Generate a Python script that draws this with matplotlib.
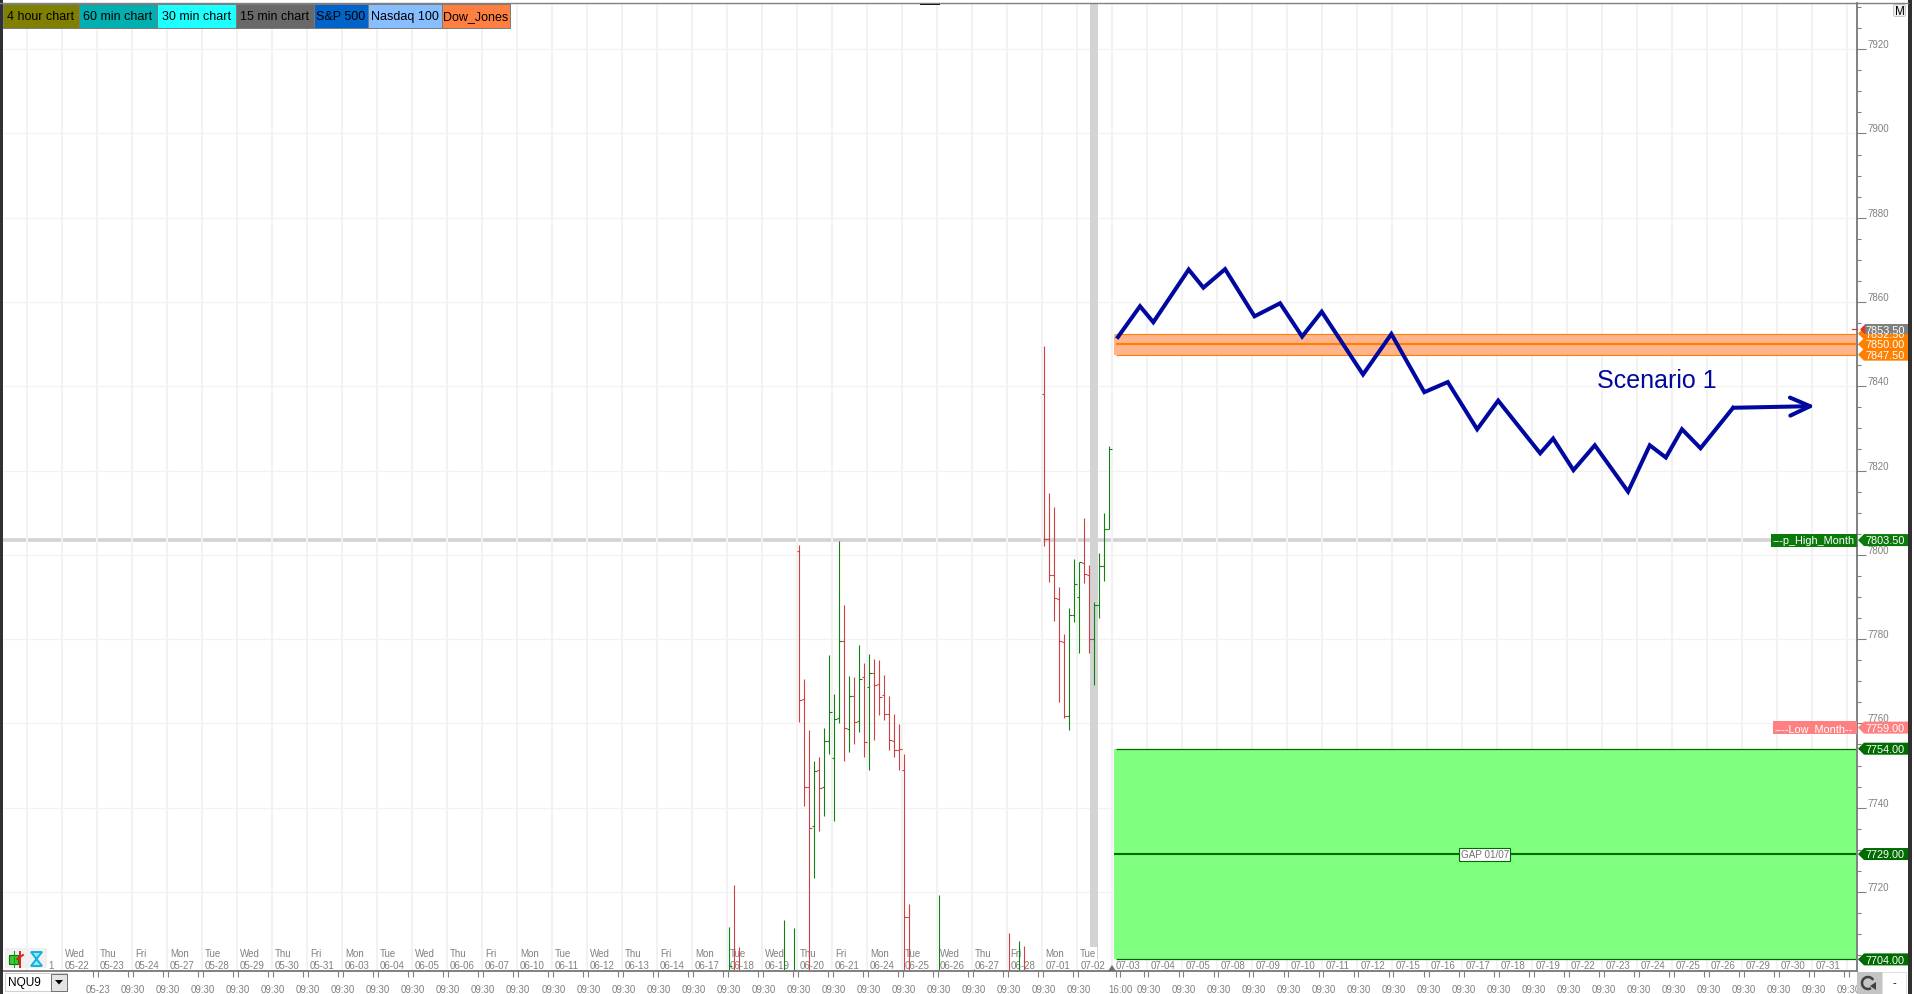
import matplotlib
matplotlib.use("Agg")
import matplotlib.pyplot as plt
from matplotlib.patches import Rectangle, Polygon, Arc, FancyBboxPatch
from matplotlib.transforms import blended_transform_factory
import numpy as np

plt.rcParams['font.family'] = ['Liberation Sans', 'DejaVu Sans']

# session axis: one slot per trading day, 7 bars per day
day_names = ["Wed", "Thu", "Fri", "Mon", "Tue", "Wed", "Thu", "Fri", "Mon", "Tue", "Wed", "Thu", "Fri", "Mon", "Tue",
             "Wed", "Thu", "Fri", "Mon", "Tue", "Wed", "Thu", "Fri", "Mon", "Tue", "Wed", "Thu", "Fri", "Mon", "Tue"]
day_dates = ["05-22", "05-23", "05-24", "05-27", "05-28", "05-29", "05-30", "05-31", "06-03", "06-04", "06-05",
             "06-06", "06-07", "06-10", "06-11", "06-12", "06-13", "06-14", "06-17", "06-18", "06-19", "06-20",
             "06-21", "06-24", "06-25", "06-26", "06-27", "06-28", "07-01", "07-02"]
future_dates = ["07-03", "07-04", "07-05", "07-08", "07-09", "07-10", "07-11", "07-12", "07-15", "07-16", "07-17",
                "07-18", "07-19", "07-22", "07-23", "07-24", "07-25", "07-26", "07-29", "07-30", "07-31"]

# bars, number = bars since the start of the 06-20 session
bar_i = [-14, -13, -12, -3, -1,
         0, 1, 2, 3, 4, 5, 6, 7, 8, 9, 10, 11, 12, 13, 14, 15, 16, 17, 18, 19, 20, 21, 22,
         28, 35, 42, 44, 45,
         49, 50, 51, 52, 53, 54, 55, 56, 57, 58, 59, 60, 61, 62]
bar_open = [7700, 7700, 7700, 7700, 7700,
            7801, 7765.75, 7745, 7735.75, 7749, 7745, 7755.75, 7751.75, 7761.25, 7779.5, 7758.75, 7766.5, 7760.5,
            7771, 7768.75, 7772, 7769.25, 7766.75, 7762.25, 7755.75, 7753.75, 7749, 7714,
            7700, 7700, 7700, 7700, 7700,
            7838.25, 7803.75, 7795.25, 7789.5, 7779.25, 7761.75, 7785.75, 7790, 7798, 7795.25, 7780, 7788, 7797.25,
            7806.25]
bar_high = [7711.75, 7721.75, 7707, 7713.25, 7711.5,
            7802.25, 7770.5, 7758.5, 7751, 7752, 7759, 7776.25, 7767, 7803.25, 7788, 7771.25, 7771, 7778.5,
            7774.25, 7776.5, 7775.25, 7775, 7771.5, 7766.5, 7762.25, 7759.75, 7752.75, 7717.25,
            7719.25, 7701.75, 7710.25, 7708.25, 7707.25,
            7849.5, 7814.75, 7811.25, 7792.25, 7781.25, 7787.5, 7799, 7798.25, 7808.75, 7797.5, 7788.75, 7800.5, 7810,
            7825.75]
bar_low = [7695, 7695, 7695, 7695, 7695,
           7760.25, 7740.5, 7695, 7723.25, 7734.5, 7738, 7752.75, 7736.75, 7760, 7751, 7753.25, 7755, 7758,
           7752, 7749, 7756, 7762, 7760.75, 7753.75, 7752, 7749, 7695, 7695,
           7695, 7695, 7695, 7695, 7695,
           7802, 7793.5, 7784.25, 7765, 7761.25, 7758.5, 7784, 7776.75, 7793.25, 7776.75, 7769, 7785, 7793.75,
           7806.25]
bar_close = [7702.5, 7700, 7700, 7700, 7700,
             7765.5, 7745, 7735.25, 7748.75, 7744.75, 7755.75, 7762.75, 7761, 7779.5, 7759, 7766.5, 7760.25, 7770.5,
             7755.5, 7772, 7769, 7766.25, 7762.25, 7756, 7753.75, 7754, 7714, 7700,
             7700, 7700, 7700, 7700, 7700,
             7803.75, 7795.25, 7789.75, 7779.5, 7761.75, 7785.75, 7793, 7798.25, 7795.5, 7780, 7788, 7797.25, 7806.25,
             7825]
bar_up = [1, 0, 0, 1, 1,
          0, 0, 0, 1, 0, 1, 1, 1, 1, 0, 1, 0, 1, 0, 1, 0, 0, 0, 0, 0, 0, 0, 0,
          1, 1, 0, 1, 0,
          0, 0, 0, 0, 0, 1, 1, 1, 0, 0, 1, 1, 1, 1]

# hand drawn scenario, in day slots and price
scenario_x = [31.17, 31.80, 32.18, 33.19, 33.61, 34.23, 35.07, 35.80, 36.43, 36.99, 38.17, 38.98, 39.92, 40.59,
              41.43, 42.03, 43.23, 43.60, 44.18, 44.79, 45.74, 46.36, 46.82, 47.28, 47.81, 48.74, 51.08]
scenario_y = [7851.7, 7859, 7855.2, 7867.7, 7863.4, 7867.8, 7856.6, 7859.7, 7851.8, 7857.7, 7842.8, 7852.4, 7838.6,
              7841, 7829.8, 7836.6, 7824.1, 7827.6, 7820.1, 7826, 7815, 7826, 7823.1, 7829.8, 7825.3, 7834.9, 7835.3]

level_high_month = 7803.50
level_low_month = 7759.00
orange_levels = [7852.50, 7850.00, 7847.50]
last_price = 7853.50
gap_top, gap_mid, gap_bottom = 7754.00, 7729.00, 7704.00

button_labels = ["4 hour chart", "60 min chart", "30 min chart", "15 min chart", "S&P 500", "Nasdaq 100", "Dow_Jones"]
button_colors = ["#808000", "#00AFAF", "#1EFFFF", "#696969", "#0064C8", "#87BEFF", "#FF7F40"]
button_edges = [3, 78.5, 157, 236, 314, 367.5, 442, 510]

W, H = 1914, 995
left, right, top, bottom = 3, 1857, 4, 972
day0, day_w = 26.7, 35.01
GREY = "#808080"
RED = "#CF4040"
GREEN = "#128012"
DKGREEN = "#006B00"
ORANGE = "#FF8000"
BLUE = "#0008A0"

fig = plt.figure(figsize=(W / 100, H / 100), dpi=100)
ax = fig.add_axes([left / W, 1 - bottom / H, (right - left) / W, (bottom - top) / H])
ax.set_xlim((left - day0) / day_w, (right - day0) / day_w)
ymin = 7760 - (bottom - 724.4) / 4.214
ymax = 7760 + (724.4 - top) / 4.214
ax.set_ylim(ymin, ymax)

for s in ['top', 'left']:
    ax.spines[s].set_visible(False)
for s in ['right', 'bottom']:
    ax.spines[s].set_color("#808080")
    ax.spines[s].set_linewidth(1.4)

# y axis
ax.yaxis.tick_right()
ax.set_yticks(np.arange(7720, 7921, 20))
ax.set_yticks(np.arange(7705, 7931, 5), minor=True)
ax.tick_params(axis='y', which='major', length=6.5, width=0.8, color="#808080", labelcolor=GREY, labelsize=7, pad=0.8)
ax.tick_params(axis='y', which='minor', length=3, width=0.8, color="#808080")
for lab in ax.get_yticklabels():
    lab.set_verticalalignment('bottom')

# x axis, two ticks per session and the time under them
xt = list(range(2, 31)) + [31.2] + list(range(32, 53))
xt_lab = ["05-23"] + ["09:30"] * 28 + ["16:00"] + ["09:30"] * 21
ax.set_xticks(np.array(xt) + 0.04)
ax.set_xticklabels(xt_lab)
ax.set_xticks(np.array(xt) - 0.1, minor=True)
ax.tick_params(axis='x', which='major', length=4.3, width=0.8, color="#808080", labelcolor=GREY, labelsize=7, pad=5)
ax.tick_params(axis='x', which='minor', length=4.3, width=0.8, color="#808080")

# grid
ax.set_axisbelow(True)
ax.vlines(np.arange(0, 53), ymin, ymax, color="#F2F2F2", lw=1.5, zorder=0.5)
ax.hlines(np.arange(7720, 7921, 20), (left - day0) / day_w, (right - day0) / day_w, color="#F2F2F2", lw=0.9, zorder=0.5)

# grey crosshair
ax.axhline(level_high_month, color="#D3D3D3", lw=2.6, zorder=0.4)
ax.axvspan(30.38, 30.61, ymin=(bottom - 960) / (bottom - top), color="#D3D3D3", lw=0, zorder=0.6)

# date labels inside the plot
tr = blended_transform_factory(ax.transData, ax.transAxes)
row1 = (bottom - 954) / (bottom - top)
row2 = (bottom - 966) / (bottom - top)
for i in range(len(day_names)):
    d = i + 1
    box = dict(fc="white", ec="none", pad=0.6) if d == 30 else None
    ax.text(d + 0.09, row1, day_names[i], transform=tr, color=GREY, fontsize=7,
            ha='left', va='center', zorder=0.8, bbox=box)
    ax.text(d + 0.09, row2, day_dates[i], transform=tr, color=GREY, fontsize=7,
            ha='left', va='center', zorder=0.8, bbox=box)
for i in range(len(future_dates)):
    ax.text(31 + i + 0.09, row2, future_dates[i], transform=tr, color=GREY, fontsize=7,
            ha='left', va='center', zorder=3.5)
ax.text(0.62, row2, "1", transform=tr, color=GREY, fontsize=7, ha='left', va='center')

# OHLC bars
bx = 22.07 + np.array(bar_i) * 5 / day_w
cols = [GREEN if u else RED for u in bar_up]
tick = 2.6 / day_w
ax.vlines(bx, bar_low, bar_high, colors=cols, lw=0.8, zorder=2)
ax.hlines(bar_open, bx - tick, bx, colors=cols, lw=0.8, zorder=2)
ax.hlines(bar_close, bx, bx + tick, colors=cols, lw=0.8, zorder=2)

# zones
zone_left = (1114.3 - day0) / day_w
zone_right = (right - day0) / day_w
ax.add_patch(Rectangle((zone_left, orange_levels[2]), zone_right - zone_left, orange_levels[0] - orange_levels[2],
                       fc="#FFB48C", ec="none", zorder=1.5))
ax.hlines([orange_levels[0], orange_levels[2]], zone_left + 0.05, zone_right, color=ORANGE, lw=0.8, zorder=1.6)
ax.hlines(orange_levels[1], zone_left + 0.05, zone_right, color=ORANGE, lw=1.5, zorder=1.6)
ax.add_patch(Rectangle((zone_left, gap_bottom), zone_right - zone_left, gap_top - gap_bottom,
                       fc="#80FF80", ec="none", zorder=1.5))
ax.hlines([gap_top, gap_bottom], zone_left + 0.05, zone_right, color=DKGREEN, lw=0.9, zorder=1.6)
ax.hlines(gap_mid, zone_left, zone_right, color=DKGREEN, lw=1.5, zorder=1.6)
ax.text(41.65, gap_mid, "GAP 01/07", color="#707070", fontsize=7.1, ha='center', va='center', zorder=4,
        bbox=dict(fc="white", ec=DKGREEN, lw=0.8, boxstyle="square,pad=0.15"))

# scenario arrow
ax.plot(scenario_x[:-1], scenario_y[:-1], color=BLUE, lw=2.9, solid_joinstyle='miter', zorder=3)
ax.annotate("", xy=(scenario_x[-1], scenario_y[-1]), xytext=(scenario_x[-2], scenario_y[-2]), zorder=3,
            arrowprops=dict(arrowstyle="->,head_length=1.44,head_width=0.65", color=BLUE, lw=2.9,
                            shrinkA=0, shrinkB=0, mutation_scale=10))
ax.text((1596.7 - day0) / day_w, 7760 + (724.4 - 388) / 4.214, "Scenario 1", color=BLUE, fontsize=18,
        ha='left', va='baseline', zorder=3)

# everything around the chart, in screen pixels
ov = fig.add_axes([0, 0, 1, 1], zorder=5)
ov.set_xlim(0, W)
ov.set_ylim(H, 0)
ov.axis('off')
ov.patch.set_alpha(0)


def py(v):
    return top + (ymax - v) / (ymax - ymin) * (bottom - top)


tag_z = [5]


def price_tag(v, col, txtcol="white"):
    # later tags sit on top of earlier ones, text included
    y = py(v)
    tag_z[0] += 1
    ov.add_patch(Polygon([(1858, y), (1864, y - 6), (1908, y - 6), (1908, y + 6), (1864, y + 6)], fc=col, ec="none",
                         zorder=tag_z[0]))
    tag_z[0] += 1
    ov.text(1866, y + 0.3, "%.2f" % v, color=txtcol, fontsize=7.8, ha='left', va='center', zorder=tag_z[0])


price_tag(orange_levels[0], ORANGE)
price_tag(orange_levels[2], ORANGE)
price_tag(orange_levels[1], ORANGE)
price_tag(gap_top, DKGREEN)
price_tag(gap_mid, DKGREEN)
price_tag(gap_bottom, DKGREEN)
price_tag(level_high_month, "#0A7A0A")
price_tag(level_low_month, "#FF8080")
y = py(last_price)
ov.add_patch(Polygon([(1860, y), (1865, y - 5), (1865, y + 5)], fc="#E83030", ec="none", zorder=30))
ov.add_patch(Rectangle((1865, y - 5), 43, 10, fc="#808080", ec="none", zorder=30))
ov.text(1866, y + 0.3, "%.2f" % last_price, color="white", fontsize=7.8, ha='left', va='center', zorder=31)
ov.plot([1852, 1857], [y, y], color="#E83030", lw=0.9)

y = py(level_high_month)
ov.add_patch(Rectangle((1771, y - 6.5), 86, 13, fc="#0A7A0A", ec="none"))
ov.text(1772.5, y + 0.3, "---p_High_Month", color="white", fontsize=7.8, ha='left', va='center')
y = py(level_low_month)
ov.add_patch(Rectangle((1773, y - 6.5), 84, 13, fc="#FF8080", ec="none"))
ov.text(1774.5, y + 0.3, "----Low_Month--", color="white", fontsize=7.8, ha='left', va='center')

# chart buttons
for i in range(len(button_labels)):
    ov.add_patch(Rectangle((button_edges[i], 5.4), button_edges[i + 1] - button_edges[i], 23.6,
                           fc=button_colors[i], ec="#7A7A7A", lw=0.7))
    ov.text((button_edges[i] + button_edges[i + 1]) / 2, 17.3, button_labels[i], color="black", fontsize=9,
            ha='center', va='center')

# window frame
ov.add_patch(Rectangle((0, 0), 2.6, H, fc="#303030", ec="none"))
ov.add_patch(Rectangle((1908, 0), 4, H, fc="#303030", ec="none"))
ov.plot([0, 1908], [3.5, 3.5], color="#808080", lw=1)
ov.add_patch(Rectangle((920, 3.5), 20, 2.5, fc="black", ec="none"))
ov.add_patch(FancyBboxPatch((1894, 6), 11, 11, boxstyle="round,pad=0.5,rounding_size=2", fc="#EFEFEF", ec="#C8C8C8",
                            lw=0.7))
ov.text(1899.5, 11.8, "M", color="black", fontsize=8.5, ha='center', va='center')

# bottom left icons and symbol box
ov.add_patch(Rectangle((5, 949), 42, 20, fc="#F0F0F0", ec="none"))
ov.plot([14, 14], [952, 968], color="#10A010", lw=0.8)
ov.add_patch(Rectangle((9, 956), 9, 9, fc="#30D030", ec="#107010", lw=0.8))
ov.plot([20, 20], [953, 968], color="#E02020", lw=1.4)
ov.plot([17, 23], [960, 956], color="#E02020", lw=1.4)
ov.add_patch(Polygon([(31, 953), (42, 953), (36.5, 960), (42, 967), (31, 967), (36.5, 960)], fc="#90E8F8",
                     ec="#10B0E0", lw=1.4))
ov.add_patch(Rectangle((5, 974), 62, 18, fc="white", ec="#D0D0D0", lw=0.8))
ov.add_patch(Rectangle((51, 975), 15.5, 16.5, fc="#E4E4E4", ec="#707070", lw=0.7))
ov.add_patch(Polygon([(55, 981), (63, 981), (59, 985.5)], fc="black", ec="none"))
ov.text(8, 983, "NQU9", color="black", fontsize=8.6, ha='left', va='center')

# bottom right buttons
ov.add_patch(Rectangle((1857, 973), 25, 22, fc="#C4C4C4", ec="none"))
ov.add_patch(Arc((1868, 984), 12, 12, theta1=60, theta2=330, color="#404040", lw=1.8))
ov.add_patch(Polygon([(1870, 987), (1876, 991), (1876, 983)], fc="#404040", ec="none"))
ov.add_patch(Rectangle((1882, 973), 24, 22, fc="white", ec="#E0E0E0", lw=0.7))
ov.text(1894, 983, "-", color="black", fontsize=8, ha='center', va='center')
ov.add_patch(Polygon([(1108, 972), (1112, 966), (1116, 972)], fc="#707070", ec="none"))

fig.savefig("out.png", dpi=100)
